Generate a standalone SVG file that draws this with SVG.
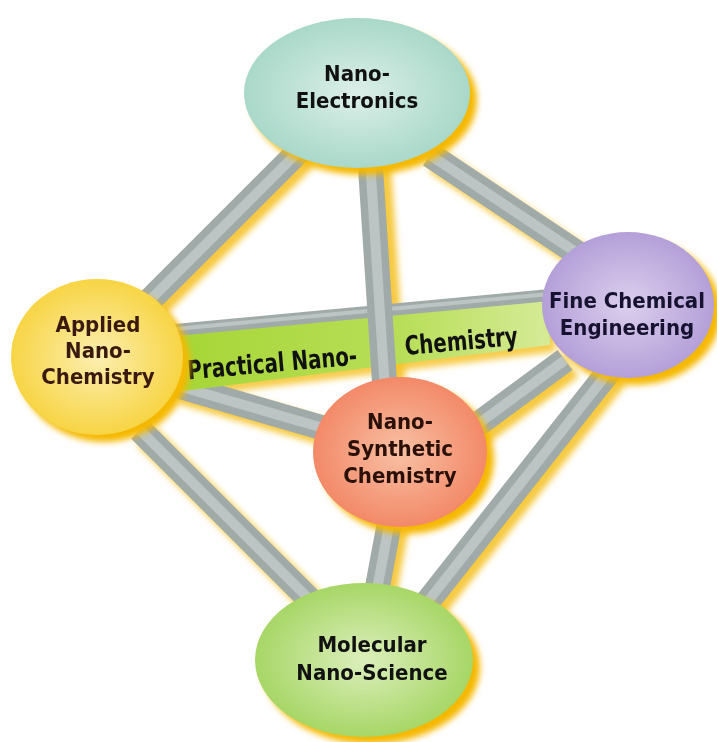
<svg xmlns="http://www.w3.org/2000/svg" width="717" height="742" viewBox="0 0 717 742">
<style>
.bar{stroke:#a0aaa8;stroke-width:25;fill:none}
.hi{stroke:#bcc5c3;stroke-width:10;fill:none}
.sh{stroke:#f5c020;stroke-width:26;fill:none;opacity:0.85}
.t{font-family:"DejaVu Sans Condensed","DejaVu Sans","Liberation Sans",sans-serif;font-stretch:condensed;font-weight:bold;text-anchor:middle;font-size:22px}
</style>
<defs>
<filter id="blur" x="-20%" y="-20%" width="140%" height="140%"><feGaussianBlur stdDeviation="3"/></filter>
<radialGradient id="gTeal" cx="50%" cy="50%" r="55%"><stop offset="0" stop-color="#dcefe9"/><stop offset="1" stop-color="#a4d6c6"/></radialGradient>
<radialGradient id="gYel" cx="50%" cy="50%" r="55%"><stop offset="0" stop-color="#fcefb0"/><stop offset="1" stop-color="#f7d23a"/></radialGradient>
<radialGradient id="gLav" cx="50%" cy="50%" r="55%"><stop offset="0" stop-color="#dccfee"/><stop offset="1" stop-color="#b09bd6"/></radialGradient>
<radialGradient id="gSal" cx="50%" cy="50%" r="55%"><stop offset="0" stop-color="#f8c0a4"/><stop offset="1" stop-color="#f28462"/></radialGradient>
<radialGradient id="gGrn" cx="50%" cy="50%" r="55%"><stop offset="0" stop-color="#dcefbc"/><stop offset="1" stop-color="#a2d45e"/></radialGradient>
<linearGradient id="gBand" x1="0" y1="0" x2="1" y2="0"><stop offset="0" stop-color="#a6d636"/><stop offset="0.6" stop-color="#b8de58"/><stop offset="1" stop-color="#d6eb98"/></linearGradient>
</defs>
<rect width="717" height="742" fill="#ffffff"/>
<g id="connectors">
<g filter="url(#blur)">
<line class="sh" x1="306" y1="156" x2="156" y2="306"/>
<line class="sh" x1="378" y1="166" x2="393" y2="390"/>
<line class="sh" x1="436" y1="161" x2="586" y2="261"/>
<line class="sh" x1="181" y1="391" x2="336" y2="436"/>
<line class="sh" x1="146" y1="436" x2="316" y2="606"/>
<line class="sh" x1="571" y1="366" x2="476" y2="436"/>
<line class="sh" x1="616" y1="376" x2="431" y2="611"/>
<line class="sh" x1="396" y1="526" x2="381" y2="606"/>
<polygon points="180,340 555,303 555,352 180,398" fill="#f5c020" opacity="0.8"/>
</g>
<line class="bar" x1="300" y1="150" x2="150" y2="300"/><line class="hi" x1="300" y1="150" x2="150" y2="300"/>
<line class="bar" x1="430" y1="155" x2="580" y2="255"/><line class="hi" x1="430" y1="155" x2="580" y2="255"/>
<line class="bar" x1="175" y1="385" x2="330" y2="430"/><line class="hi" x1="175" y1="385" x2="330" y2="430"/>
<line class="bar" x1="140" y1="430" x2="310" y2="600"/><line class="hi" x1="140" y1="430" x2="310" y2="600"/>
<g id="band">
<polygon points="175,330 550,295 550,345 175,392" fill="url(#gBand)"/>
<line x1="175" y1="330" x2="550" y2="295" stroke="#a0aaa8" stroke-width="12"/>
<line x1="175" y1="329" x2="550" y2="294" stroke="#bcc5c3" stroke-width="4"/>
<text class="t" font-size="20.5" fill="#111" transform="translate(273,372) rotate(-5) scale(1,1.2)">Practical Nano-</text>
<text class="t" font-size="20.5" fill="#111" transform="translate(462,350) rotate(-5) scale(1,1.2)">Chemistry</text>
</g>
<line class="bar" x1="370" y1="160" x2="385" y2="390"/><line class="hi" x1="370" y1="160" x2="385" y2="390"/>
<line class="bar" x1="565" y1="360" x2="470" y2="430"/><line class="hi" x1="565" y1="360" x2="470" y2="430"/>
<line class="bar" x1="610" y1="370" x2="425" y2="605"/><line class="hi" x1="610" y1="370" x2="425" y2="605"/>
<line class="bar" x1="390" y1="520" x2="375" y2="600"/><line class="hi" x1="390" y1="520" x2="375" y2="600"/>
</g>
<g id="nano-electronics">
<ellipse cx="364" cy="100" rx="113" ry="75" fill="#f5b800" filter="url(#blur)"/>
<ellipse cx="357" cy="93" rx="113" ry="75" fill="url(#gTeal)"/>
<text class="t" x="357" y="81" fill="#111">Nano-</text>
<text class="t" x="357" y="108" fill="#111">Electronics</text>
</g>
<g id="applied-nano-chemistry">
<ellipse cx="104" cy="364" rx="86" ry="78" fill="#f5b800" filter="url(#blur)"/>
<ellipse cx="97" cy="357" rx="86" ry="78" fill="url(#gYel)"/>
<text class="t" x="98" y="332" fill="#3a1a10">Applied</text>
<text class="t" x="98" y="358" fill="#3a1a10">Nano-</text>
<text class="t" x="98" y="384" fill="#3a1a10">Chemistry</text>
</g>
<g id="fine-chemical-engineering">
<ellipse cx="635" cy="312" rx="86" ry="73" fill="#f5b800" filter="url(#blur)"/>
<ellipse cx="628" cy="305" rx="86" ry="73" fill="url(#gLav)"/>
<text class="t" x="627" y="308" fill="#161230">Fine Chemical</text>
<text class="t" x="627" y="335" fill="#161230">Engineering</text>
</g>
<g id="nano-synthetic-chemistry">
<ellipse cx="407" cy="459" rx="87" ry="75" fill="#f5b800" filter="url(#blur)"/>
<ellipse cx="400" cy="452" rx="87" ry="75" fill="url(#gSal)"/>
<text class="t" x="400" y="429" fill="#2a1008">Nano-</text>
<text class="t" x="400" y="456" fill="#2a1008">Synthetic</text>
<text class="t" x="400" y="483" fill="#2a1008">Chemistry</text>
</g>
<g id="molecular-nano-science">
<ellipse cx="371" cy="667" rx="109" ry="77" fill="#f5b800" filter="url(#blur)"/>
<ellipse cx="364" cy="660" rx="109" ry="77" fill="url(#gGrn)"/>
<text class="t" x="372" y="652" fill="#111">Molecular</text>
<text class="t" x="372" y="680" fill="#111">Nano-Science</text>
</g>
</svg>
